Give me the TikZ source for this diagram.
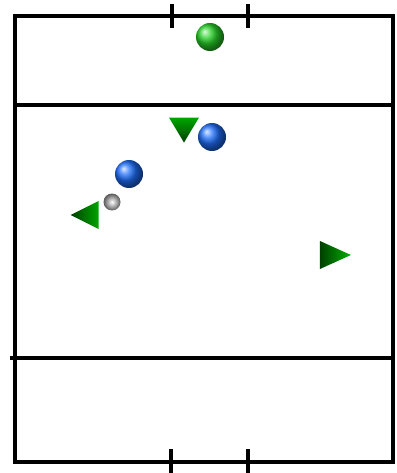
\documentclass[tikz,border=0pt]{standalone}
\usetikzlibrary{shapes.geometric}
\definecolor{teamblue}{RGB}{30,110,250}
\definecolor{keepergreen}{RGB}{40,210,40}
\begin{document}
\begin{tikzpicture}[x=1pt,y=-1pt]
	\tikzset{field/.style={draw, line width=3.2pt},
		ball/.style={circle, inner sep=0pt, shading=ball, minimum size=28pt},
		tri/.style={isosceles triangle, isosceles triangle stretches, inner sep=0pt, draw=none, minimum width=28pt, minimum height=28pt}}
	\useasboundingbox (0,0) rectangle (396,473);
	\draw[field] (15,16) rectangle (393,462);
	\draw[field] (15,105) -- (393,105);
	\draw[field] (10,358) -- (393,358);
	\draw[field] (172,4) -- (172,28);
	\draw[field] (248,4) -- (248,28);
	\draw[field] (171,449) -- (171,473);
	\draw[field] (248,449) -- (248,473);
	\node[ball, ball color=keepergreen, minimum width=28pt, minimum height=25pt] (keeper) at (210,37) {};
	\node[ball, ball color=teamblue] (blueA) at (212,137) {};
	\node[ball, ball color=teamblue] (blueB) at (129,174) {};
	\node[circle, inner sep=0pt, minimum size=17pt, inner color=white, outer color=gray!70!black] (puck) at (112,202) {};
	\node[tri, shape border rotate=-90, minimum width=30pt, minimum height=25pt, top color=green!65!black, bottom color=green!25!black] (greenA) at (184,126) {};
	\node[tri, shape border rotate=180, left color=green!25!black, right color=green!65!black] (greenB) at (90,215) {};
	\node[tri, shape border rotate=0, minimum height=31pt, left color=green!25!black, right color=green!70!black] (greenC) at (329,255) {};
\end{tikzpicture}
\end{document}
